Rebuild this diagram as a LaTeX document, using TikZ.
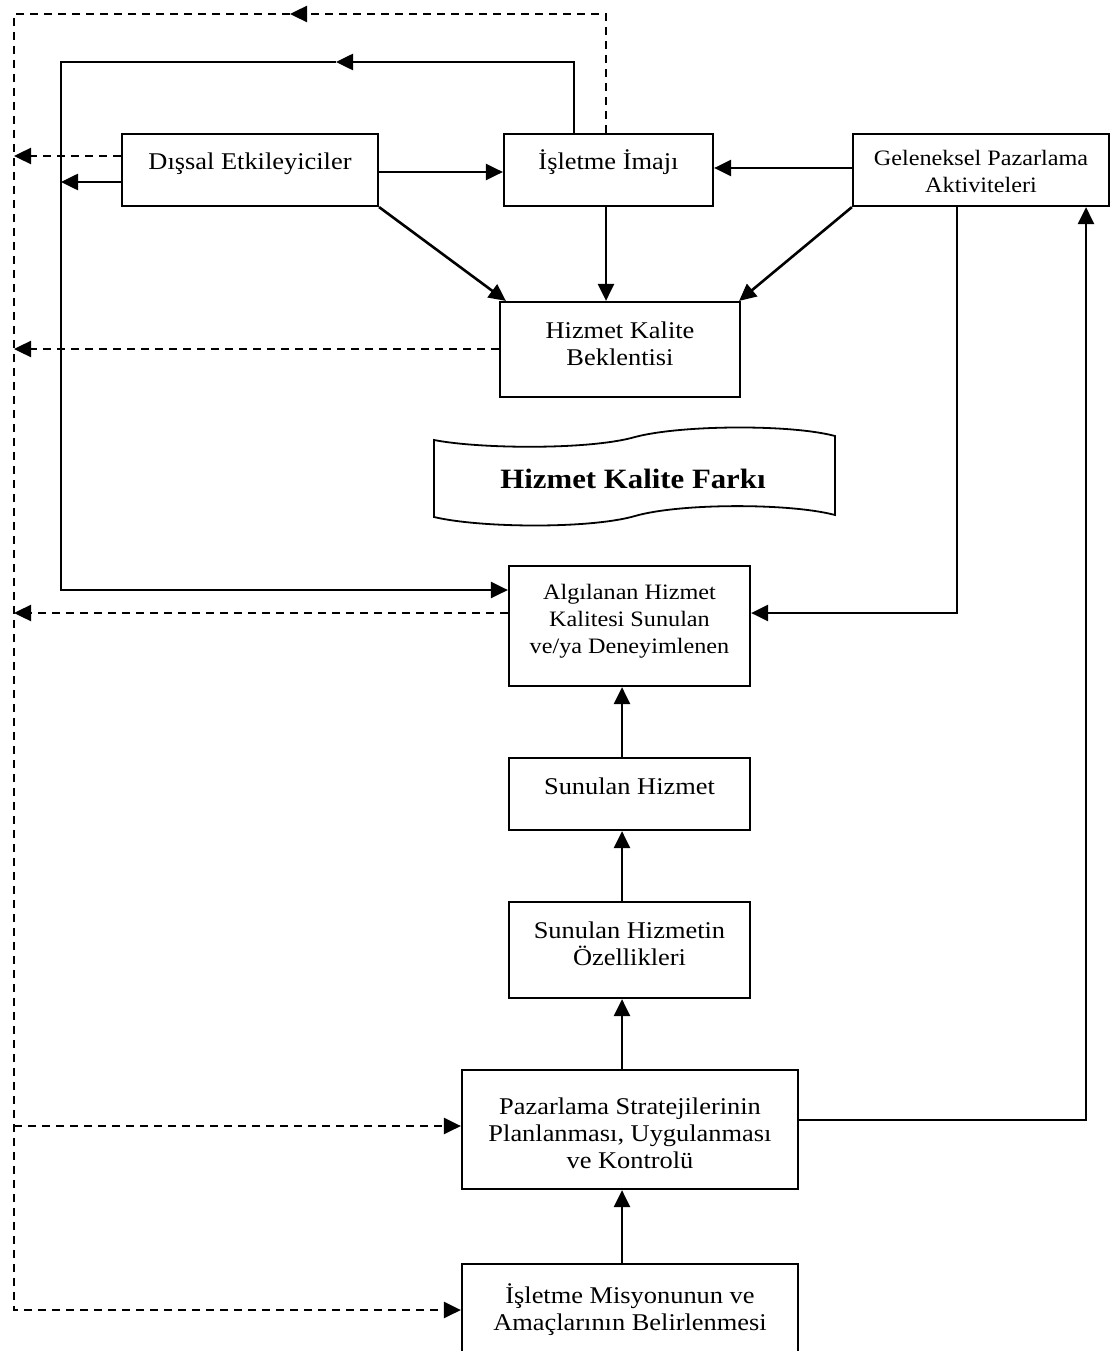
\documentclass[tikz,border=0pt]{standalone}
\usepackage{fontspec}
\setmainfont{Liberation Serif}[FakeStretch=1.1]
\usetikzlibrary{arrows.meta}

\begin{document}
\begin{tikzpicture}[x=1pt,y=-1pt,
  box/.style={draw, line width=2.2pt, inner sep=0pt},
  txt/.style={inner sep=0pt, align=center, anchor=base, font=\fontsize{24}{27}\selectfont},
  txts/.style={inner sep=0pt, align=center, anchor=base, font=\fontsize{22}{27}\selectfont},
  tip/.style={-{Triangle[length=17pt,width=16pt]}},
  ln/.style={line width=2.6pt},
  dsh/.style={line width=2.4pt, dash pattern=on 8pt off 6pt}]

\fill[white] (0,0) rectangle (1111,1351);
\useasboundingbox (0,0) rectangle (1111,1351);

% boxes
\node[box, minimum width=256pt, minimum height=72pt]  (dis) at (250,170) {};
\node[box, minimum width=209pt, minimum height=72pt]  (isl) at (608.5,170) {};
\node[box, minimum width=256pt, minimum height=72pt]  (gel) at (981,170) {};
\node[box, minimum width=240pt, minimum height=95pt]  (bek) at (620,349.5) {};
\node[box, minimum width=241pt, minimum height=120pt] (alg) at (629.5,626) {};
\node[box, minimum width=241pt, minimum height=72pt]  (sun) at (629.5,794) {};
\node[box, minimum width=241pt, minimum height=96pt]  (oz)  at (629.5,950) {};
\node[box, minimum width=336pt, minimum height=119pt] (paz) at (630,1129.5) {};
\node[box, minimum width=336pt, minimum height=110pt] (mis) at (630,1319) {};

% box texts (anchored at the baseline of the last line)
\node[txt]  (dis-t) at (250,170) {Dışsal Etkileyiciler};
\node[txt]  (isl-t) at (608.5,170) {İşletme İmajı};
\node[txts] (gel-t) at (981,193) {Geleneksel Pazarlama\\Aktiviteleri};
\node[txt]  (bek-t) at (620,365) {Hizmet Kalite\\Beklentisi};
\node[txts] (alg-t) at (629.5,653) {Algılanan Hizmet\\Kalitesi Sunulan\\ve/ya Deneyimlenen};
\node[txt]  (sun-t) at (629.5,794) {Sunulan Hizmet};
\node[txt]  (oz-t)  at (629.5,965) {Sunulan Hizmetin\\Özellikleri};
\node[txt]  (paz-t) at (630,1168) {Pazarlama Stratejilerinin\\Planlanması, Uygulanması\\ve Kontrolü};
\node[txt]  (mis-t) at (630,1330) {İşletme Misyonunun ve\\Amaçlarının Belirlenmesi};

% wavy banner
\draw[line width=1.8pt] (434,440) .. controls (480,449) and (590,450) .. (635,437)
  .. controls (680,425) and (790,424) .. (835,436) -- (835,515)
  .. controls (790,503) and (680,503) .. (635,516)
  .. controls (590,529) and (480,528) .. (434,517) -- cycle;
\node[inner sep=0pt, anchor=base, font=\fontsize{28}{32}\selectfont\bfseries] (gap) at (633,488) {Hizmet Kalite Farkı};

% dashed feedback loop along the left margin
\coordinate (ftop) at (14,14);
\coordinate (fbot) at (14,1310);
\draw[dsh, tip] (isl.north -| 606,0) |- (290,14);
\draw[dsh, tip] (290,14) -- (ftop) -- (fbot) -- (mis.west |- fbot);
\draw[dsh, tip] (dis.west |- 0,156) -- (ftop |- 0,156);
\draw[dsh, tip] (bek.west |- 0,349) -- (ftop |- 0,349);
\draw[dsh, tip] (alg.west |- 0,613) -- (ftop |- 0,613);
\draw[dsh, tip] (ftop |- 0,1126) -- (paz.west |- 0,1126);

% solid loop from the image box to the perceived quality box
\draw[ln, tip] (isl.north -| 574,0) |- (336,62);
\draw[ln, tip] (336,62) -| (61,590) -- (alg.west |- 0,590);
\draw[ln, tip] (dis.west |- 0,182) -- (61,182);

% links in the upper part
\draw[ln, tip] (dis.east |- 0,172) -- (isl.west |- 0,172);
\draw[ln, tip] (gel.west |- 0,168) -- (isl.east |- 0,168);
\draw[ln, tip] (dis.south east) -- ([xshift=7pt]bek.north west);
\draw[ln, tip] (isl.south -| 606,0) -- (bek.north -| 606,0);
\draw[ln, tip] (gel.south west) -- ([xshift=-2pt]bek.north east);
\draw[ln, tip] (gel.south -| 957,0) |- (alg.east |- 0,613);
\draw[ln, tip] (paz.east |- 0,1120) -| (gel.south -| 1086,0);

% vertical chain
\draw[ln, tip] (sun.north -| 622,0) -- (alg.south -| 622,0);
\draw[ln, tip] (oz.north -| 622,0) -- (sun.south -| 622,0);
\draw[ln, tip] (paz.north -| 622,0) -- (oz.south -| 622,0);
\draw[ln, tip] (mis.north -| 622,0) -- (paz.south -| 622,0);
\end{tikzpicture}
\end{document}
